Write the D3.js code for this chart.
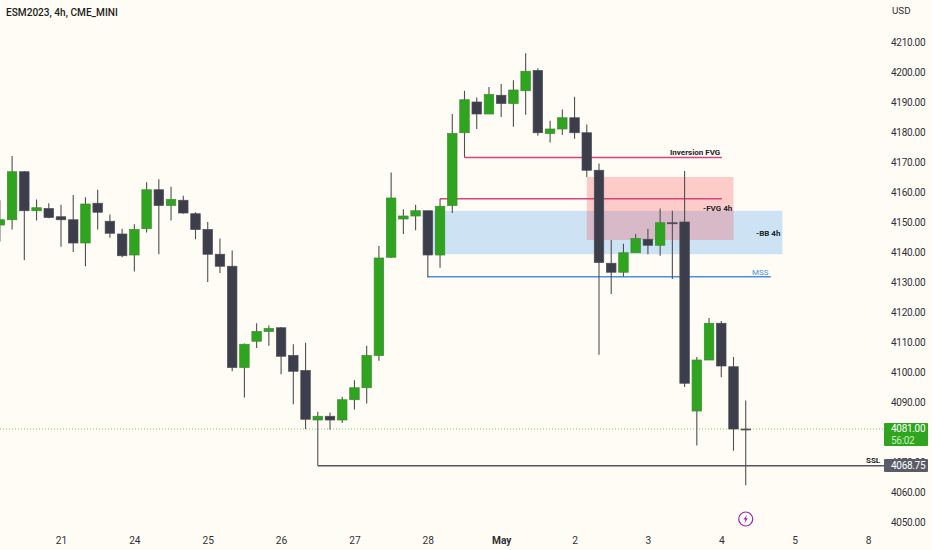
<!DOCTYPE html>
<html>
<head>
<meta charset="utf-8">
<script src="https://cdn.jsdelivr.net/npm/d3@7"></script>
<style>
  html, body { margin: 0; padding: 0; background: #fffcf5; overflow: hidden; }
  text { font-family: Roboto, "Open Sans", sans-serif; }
</style>
</head>
<body>
<svg id="chart" width="932" height="550"></svg>
<script>
// ESM2023 4h candles
const opens = [4149,4150.75,4166.75,4153.75,4154.5,4151.75,4150.75,4143,4156.25,4150.25,4146,4139,4147.75,4160.75,4155.5,4157.25,4152.75,4147.5,4139.25,4135.25,4101.5,4110.25,4113.5,4114.75,4105.5,4100.5,4084,4085.25,4084,4090.75,4094.75,4105.5,4138.25,4151,4152,4153.75,4139,4155.5,4179.75,4190,4186,4192.25,4189.5,4193.75,4200.5,4179.5,4181,4184.75,4179.75,4167.25,4136.25,4133.25,4139.75,4144.25,4142.25,4149.75,4150,4087,4104,4116.25,4101.75,4081];
const highs = [4157.25,4172,4167,4157.5,4156.25,4155.75,4159,4158.25,4160.75,4152.5,4147.75,4149.25,4163.25,4164.25,4161.75,4158.75,4153.25,4150,4144.5,4140.5,4109.5,4116.25,4115.5,4115,4109.25,4109.75,4086.75,4086.5,4091.75,4097.25,4108.75,4142,4166.5,4154.25,4155.75,4153.75,4157.75,4186,4193.75,4191.5,4195,4196,4197.25,4206.25,4201.25,4183.75,4187.5,4191.75,4182.5,4169.5,4144,4142.75,4146,4147.75,4154.5,4153.75,4167,4105,4118,4117,4105,4090.5];
const lows = [4143.5,4147.5,4137.25,4150.5,4151.25,4141.75,4140,4135.25,4147.5,4144.75,4138.25,4133.5,4146.5,4139.25,4150.5,4152.75,4144.25,4130,4133,4100.25,4091.5,4108,4108.75,4099.25,4089.25,4081,4068.75,4080.75,4083,4087.5,4089.5,4103.75,4138,4146,4147.25,4131.5,4134.75,4153,4171.5,4181,4186,4185,4181.75,4185.75,4178.75,4176.5,4179,4177.75,4165,4105.75,4126,4131.75,4139.75,4139.25,4138.75,4131,4095,4075.5,4104,4098.25,4073.75,4062.25];
const closes = [4150.75,4166.75,4153.75,4154.75,4151.5,4150.75,4143,4156,4153.25,4146.25,4138.75,4147.5,4160.75,4155.5,4157.5,4153,4147.5,4139.25,4135.25,4101.5,4109.25,4113.5,4114.5,4105.25,4100.25,4084.25,4085.25,4084,4090.75,4094.75,4105.5,4138,4158,4152,4153.75,4139,4155.25,4179.5,4190.75,4186,4192.5,4189.5,4194,4200.25,4179.75,4181,4184.75,4179.75,4167.25,4136.5,4133.25,4139.75,4144.5,4142.25,4149.75,4149.5,4096.25,4104,4116.25,4102,4081,4081];

const dayLabels = ['21','24','25','26','27','28','May','2','3','4','5','8'];
const dayIndexes = [5,11,17,23,29,35,41,47,53,59,65,71];
// 4080 sits under the last price tag, so it is left out
const priceTicks = [4050,4060,4070,4090,4100,4110,4120,4130,4140,4150,4160,4170,4180,4190,4200,4210];

// drawings: [start index, end index, price]
const inversionLine = [38, 59.05, 4171.5];
const fvgLine = [36, 59.05, 4157.75];
const mssLine = [35, 63.05, 4131.75];
const sslLine = [26, 74, 4068.75];
// zones: [start index, end index, top price, bottom price]
const fvgZone = [48, 60, 4165, 4144];
const bbZone = [35, 64, 4153.75, 4139.25];

const lastPrice = 4081;
const sslPrice = 4068.75;

const UP = '#2fa51f', DOWN = '#3d3e4b', WICK = '#505050';
const PINK = '#d8437f', BLUE = '#4a8fe3';
const BODY_W = 9.5;

const svg = d3.select('#chart');
const x = d3.scaleLinear().domain([5, 71]).range([61, 868]);
const y = d3.scaleLinear().domain([4050, 4210]).range([522, 42]);

// zones
[[bbZone, 'rgba(100,175,240,0.32)'], [fvgZone, 'rgba(248,60,70,0.25)']].forEach(([z, fill]) => {
  svg.append('rect')
    .attr('x', x(z[0])).attr('y', y(z[2]))
    .attr('width', x(z[1]) - x(z[0])).attr('height', y(z[3]) - y(z[2]))
    .attr('fill', fill);
});

// last price dotted line
svg.append('line')
  .attr('x1', 0).attr('x2', 884)
  .attr('y1', y(lastPrice)).attr('y2', y(lastPrice))
  .attr('stroke', '#7fc276').attr('stroke-width', 1).attr('stroke-dasharray', '1 2');

// horizontal drawings
[[inversionLine, PINK, 1.5], [fvgLine, PINK, 1.5], [mssLine, BLUE, 1.3], [sslLine, '#55565f', 1.5]].forEach(([l, color, w]) => {
  svg.append('line')
    .attr('x1', x(l[0])).attr('x2', x(l[1]))
    .attr('y1', y(l[2])).attr('y2', y(l[2]))
    .attr('stroke', color).attr('stroke-width', w);
});

// candles
const candles = d3.range(opens.length);
svg.append('g').selectAll('line').data(candles).join('line')
  .attr('x1', i => x(i)).attr('x2', i => x(i))
  .attr('y1', i => y(highs[i])).attr('y2', i => y(lows[i]))
  .attr('stroke', WICK).attr('stroke-width', 1.1);

svg.append('g').selectAll('rect').data(candles).join('rect')
  .attr('x', i => x(i) - BODY_W / 2)
  .attr('width', BODY_W)
  .attr('y', i => y(Math.max(opens[i], closes[i])))
  .attr('height', i => Math.max(1, Math.abs(y(opens[i]) - y(closes[i]))))
  .attr('fill', i => i === opens.length - 1 ? WICK : closes[i] >= opens[i] ? UP : DOWN)
  .attr('stroke', i => i === opens.length - 1 ? WICK : closes[i] >= opens[i] ? '#3c8a33' : '#4a4b55')
  .attr('stroke-width', 0.7);

// axes
const LABEL = { 'font-size': 10, 'letter-spacing': -0.3 };
const priceAxis = d3.axisRight(y).tickValues(priceTicks).tickSize(0).tickPadding(0)
  .tickFormat(d3.format('.2f'));
const gy = svg.append('g').attr('transform', 'translate(891,0)').call(priceAxis);
gy.select('.domain').remove();
gy.selectAll('text').attr('font-size', LABEL['font-size']).attr('letter-spacing', LABEL['letter-spacing']).attr('fill', '#2f3038');

const timeAxis = d3.axisBottom(x).tickValues(dayIndexes).tickSize(0).tickPadding(0)
  .tickFormat(d => dayLabels[dayIndexes.indexOf(d)]);
const gx = svg.append('g').attr('transform', 'translate(0,536.5)').call(timeAxis);
gx.select('.domain').remove();
gx.selectAll('text').attr('font-size', 10.2).attr('fill', '#2f3038')
  .attr('font-weight', d => d === 41 ? 700 : 400);

// price tags
svg.append('rect').attr('x', 884).attr('y', 423).attr('width', 44).attr('height', 23)
  .attr('rx', 1).attr('fill', UP);
svg.append('text').attr('x', 891).attr('y', y(lastPrice) + 3).attr('font-size', LABEL['font-size'])
  .attr('letter-spacing', LABEL['letter-spacing']).attr('fill', '#fff')
  .text(d3.format('.2f')(lastPrice));
svg.append('text').attr('x', 891).attr('y', y(lastPrice) + 14.5).attr('font-size', LABEL['font-size'])
  .attr('letter-spacing', LABEL['letter-spacing']).attr('fill', '#c5efbd')
  .text('56:02');
svg.append('rect').attr('x', 884).attr('y', 459).attr('width', 44).attr('height', 13)
  .attr('rx', 1).attr('fill', '#5a5c68');
svg.append('text').attr('x', 891).attr('y', y(sslPrice) + 3.6).attr('font-size', LABEL['font-size'])
  .attr('letter-spacing', LABEL['letter-spacing']).attr('fill', '#fff')
  .text(d3.format('.2f')(sslPrice));

// texts
svg.append('text').attr('x', 6).attr('y', 16).attr('font-size', 10.1).attr('font-weight', 500)
  .attr('fill', '#1b1c22').text('ESM2023, 4h, CME_MINI');
svg.append('text').attr('x', 892).attr('y', 14).attr('font-size', 9.8).attr('fill', '#2f3038').text('USD');

const notes = [
  ['Inversion FVG', 670, 155, '#23242b'],
  ['-FVG 4h', 703, 211, '#23242b'],
  ['-BB 4h', 756, 236, '#23242b'],
  ['MSS', 752, 274.5, BLUE],
  ['SSL', 866, 463, '#23242b']
];
svg.append('g').selectAll('text').data(notes).join('text')
  .attr('x', d => d[1]).attr('y', d => d[2])
  .attr('font-size', 8).attr('font-weight', d => d[0] === 'MSS' ? 400 : 700)
  .attr('fill', d => d[3])
  .text(d => d[0]);

// lightning marker under the last candle
const marker = svg.append('g').attr('transform', `translate(${x(61)},519)`);
marker.append('circle').attr('r', 7).attr('fill', 'none').attr('stroke', '#9c27b0').attr('stroke-width', 1.2);
marker.append('path').attr('d', 'M1.4,-4.2 L-2.2,0.6 L-0.2,0.6 L-1.4,4.2 L2.2,-0.8 L0.2,-0.8 Z').attr('fill', '#9c27b0');
</script>
</body>
</html>
